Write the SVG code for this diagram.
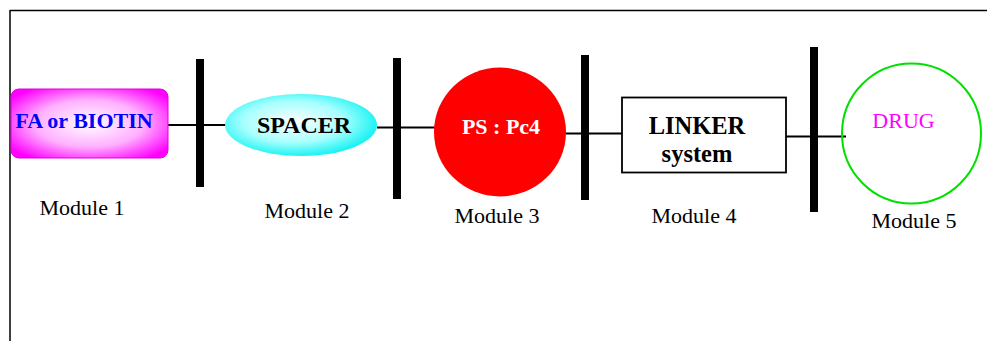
<svg xmlns="http://www.w3.org/2000/svg" width="987" height="341" viewBox="0 0 987 341">
<defs>
<radialGradient id="gMag" cx="0.5" cy="0.5" r="0.62">
<stop offset="0" stop-color="#ffffff"/>
<stop offset="0.55" stop-color="#ffb0ff"/>
<stop offset="1" stop-color="#ff00ff"/>
</radialGradient>
<radialGradient id="gCyan" cx="0.45" cy="0.45" r="0.6">
<stop offset="0" stop-color="#ffffff"/>
<stop offset="0.55" stop-color="#a8ffff"/>
<stop offset="1" stop-color="#00f0f0"/>
</radialGradient>
</defs>
<style>
.frame{stroke:#000;stroke-width:1.5;fill:none}
.bar{fill:#000}
.conn{stroke:#000;stroke-width:2;fill:none}
text{font-family:"Liberation Serif",serif}
.lbl{font-size:22px;fill:#000;text-anchor:middle}
.bold{font-weight:bold;text-anchor:middle}
</style>
<rect width="987" height="341" fill="#fff"/>
<g id="frame">
<line class="frame" x1="10" y1="10.5" x2="987" y2="10.5"/>
<line class="frame" x1="10" y1="10" x2="10" y2="341"/>
</g>
<g id="connectors">
<line class="conn" x1="168" y1="125" x2="226" y2="125"/>
<line class="conn" x1="377" y1="127.5" x2="435" y2="127.5"/>
<line class="conn" x1="566" y1="133.5" x2="622" y2="133.5"/>
<line class="conn" x1="786" y1="136.5" x2="846" y2="136.5"/>
</g>
<g id="separators">
<rect class="bar" x="196" y="59" width="8" height="128"/>
<rect class="bar" x="393" y="58" width="8" height="141"/>
<rect class="bar" x="581" y="55" width="8" height="145"/>
<rect class="bar" x="810" y="47" width="8" height="165"/>
</g>
<g id="module1">
<rect x="11" y="89" width="157" height="69" rx="8" fill="url(#gMag)" stroke="#e000e0" stroke-width="1"/>
<text class="bold" x="84" y="128" font-size="22" fill="#0000ff">FA or BIOTIN</text>
<text class="lbl" x="82" y="215">Module 1</text>
</g>
<g id="module2">
<ellipse cx="301" cy="125" rx="76" ry="31" fill="url(#gCyan)"/>
<text class="bold" x="304" y="133" font-size="24" fill="#000">SPACER</text>
<text class="lbl" x="307" y="218">Module 2</text>
</g>
<g id="module3">
<ellipse cx="500" cy="132" rx="66" ry="64.5" fill="#ff0000"/>
<text class="bold" x="501" y="134" font-size="22" fill="#fff">PS : Pc4</text>
<text class="lbl" x="497" y="223">Module 3</text>
</g>
<g id="module4">
<rect x="622" y="97.5" width="164" height="75" fill="#fff" stroke="#000" stroke-width="1.8"/>
<text class="bold" x="697" y="134" font-size="24.5" fill="#000">LINKER</text>
<text class="bold" x="697" y="162" font-size="24.5" fill="#000">system</text>
<text class="lbl" x="694" y="223">Module 4</text>
</g>
<g id="module5">
<ellipse cx="911.5" cy="133.5" rx="69.5" ry="70" fill="none" stroke="#00e000" stroke-width="2"/>
<text x="903.5" y="128" font-size="22" fill="#ff00ff" text-anchor="middle">DRUG</text>
<text class="lbl" x="914" y="228">Module 5</text>
</g>
</svg>
